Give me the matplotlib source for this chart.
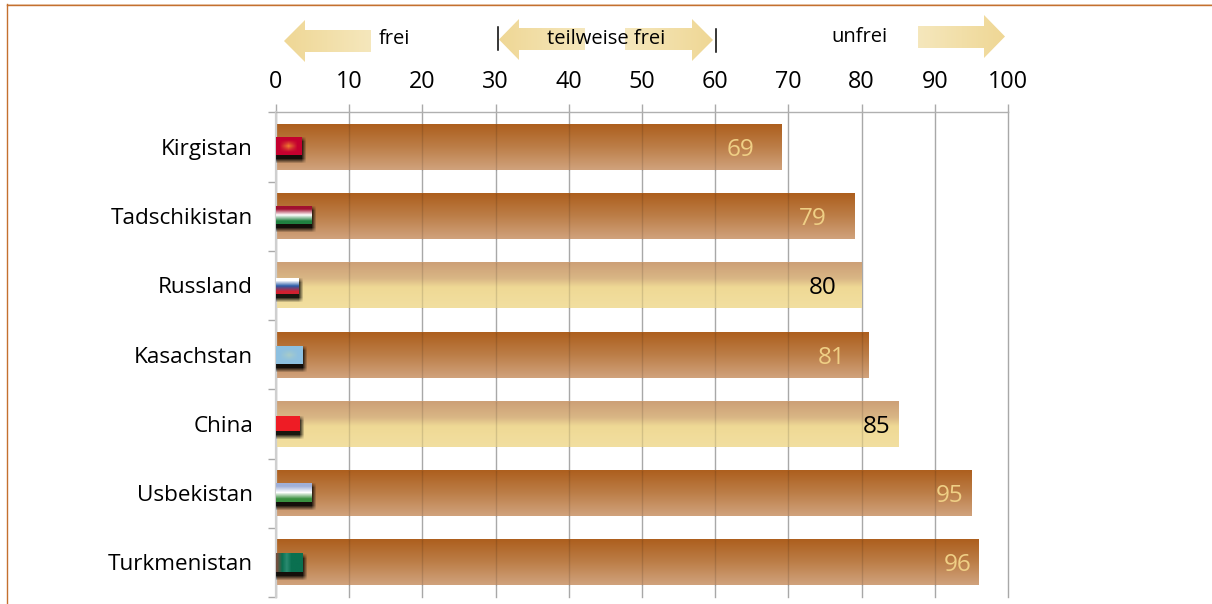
import numpy as np
import matplotlib
matplotlib.use('Agg')
import matplotlib.pyplot as plt
from matplotlib.colors import to_rgb, LinearSegmentedColormap
from matplotlib.patches import Polygon

# --- press freedom chart: countries, scores, status ---
countries = ['Kirgistan', 'Tadschikistan', 'Russland', 'Kasachstan', 'China', 'Usbekistan', 'Turkmenistan']
scores = [69, 79, 80, 81, 85, 95, 96]
score_labels = ['69', '79', '80', '81', '85', '95', '96']
light_bar = [False, False, True, False, True, False, False]
x_ticks = [0, 10, 20, 30, 40, 50, 60, 70, 80, 90, 100]

# layout / style only
W, H = 1212, 604
label_shift = [41, 42, 39, 37, 22, 22, 21]  # px left of the bar end
flag_size = [(26, 18), (36, 18), (23, 16), (27, 18), (24, 15), (36, 19), (27, 18)]  # px
flag_dy = [-1, -1, 1, 0, 0, -1, 1]  # px from bar centre
flag_pixels = [
    [['#C4002F', '#C4002F', '#C4002F'], ['#C4002F', '#F08030', '#C4002F'], ['#C4002F', '#C4002F', '#C4002F']],
    [['#A01030'], ['#FFFFFF'], ['#208040']],
    [['#FFFFFF'], ['#2A5CA8'], ['#D02030']],
    [['#8DC0E0', '#8DC0E0', '#8DC0E0'], ['#8DC0E0', '#A8CCC8', '#8DC0E0'], ['#8DC0E0', '#8DC0E0', '#8DC0E0']],
    [['#EE1C25']],
    [['#A0B0D8'], ['#FFFFFF'], ['#3A9040']],
    [['#705040', '#0A7050', '#2A8A70', '#0A7050', '#0A7050', '#0A7050']],
]

plt.rcParams['font.family'] = ['Open Sans', 'DejaVu Sans']

fig = plt.figure(figsize=(W / 100, H / 100), dpi=100)
ax = fig.add_axes([276 / W, 1 - 597 / H, (1008 - 276) / W, (597 - 112.3) / H])

brown_cmap = LinearSegmentedColormap.from_list('brown', ['#AD5F1E', '#BC7E48', '#D0A27C'])
tan_cmap = LinearSegmentedColormap.from_list('tan', [(0, '#CDA077'), (0.35, '#D9B685'), (0.55, '#EFD995'), (1, '#F2DFA0')])
grad = np.linspace(0, 1, 64).reshape(-1, 1)

ypos = np.arange(len(countries))
bars = ax.barh(ypos, scores, height=46 / 69.3, color='none', linewidth=0)
for bar, light in zip(bars, light_bar):
    x0, y0, w, h = bar.get_x(), bar.get_y(), bar.get_width(), bar.get_height()
    im = ax.imshow(grad, cmap=tan_cmap if light else brown_cmap, aspect='auto',
                   extent=(x0, x0 + w, y0 + h, y0), zorder=1, interpolation='bilinear')
    im.set_clip_path(bar)
    # grid shows faintly through the bar
    ax.vlines([t for t in x_ticks if 0 < t < x0 + w], y0, y0 + h, color='black', alpha=0.12, linewidth=1, zorder=2)

# px to data scale
sx = 100 / (1008 - 276)
sy = 7 / (597 - 112.3)

# flags with a soft shadow underneath
for i, (size, dy, pix) in enumerate(zip(flag_size, flag_dy, flag_pixels)):
    fw, fh = size
    blur = 5
    ex = np.clip(np.minimum(np.arange(fw + 2 * blur), np.arange(fw + 2 * blur)[::-1]) / blur, 0, 1)
    ey = np.clip(np.minimum(np.arange(fh + 2 * blur), np.arange(fh + 2 * blur)[::-1]) / blur, 0, 1)
    shadow = np.zeros((fh + 2 * blur, fw + 2 * blur, 4))
    shadow[..., 3] = np.outer(ey, ex) * 0.9
    top = i + (dy - fh / 2) * sy
    ax.imshow(shadow, aspect='auto', zorder=4, interpolation='bilinear',
              extent=(-blur * sx, (fw + blur) * sx, top + (fh + 4 + blur) * sy, top + (4 - blur) * sy))
    rgb = np.array([[to_rgb(c) for c in row] for row in pix])
    ax.imshow(rgb, aspect='auto', zorder=5, interpolation='bilinear' if rgb.size > 3 else 'nearest',
              extent=(-0.1, -0.1 + fw * sx, top + fh * sy, top))

for i, (val, txt, shift, light) in enumerate(zip(scores, score_labels, label_shift, light_bar)):
    ax.text(val - shift * sx, i + 3 * sy, txt, ha='center', va='center', fontsize=17.5,
            color='black' if light else '#EFCF85', zorder=6)

ax.set_xlim(0, 100)
ax.set_ylim(6.5, -0.5)
ax.set_axisbelow(True)
ax.xaxis.tick_top()
ax.set_xticks(x_ticks)
ax.set_xticklabels([str(t) for t in x_ticks], fontsize=16.8, color='black')
ax.tick_params(axis='x', length=5.8, width=1, color='#AAAAAA', pad=7.5)
ax.xaxis.grid(True, color='#A8A8A8', linewidth=1, clip_on=False)

# boundaries get the tick marks, centres get the names
ax.set_yticks(np.arange(-0.5, 7, 1))
ax.set_yticklabels([])
ax.set_yticks(ypos, labels=countries, minor=True)
ax.tick_params(axis='y', which='major', length=5.8, width=1, color='#AAAAAA')
ax.tick_params(axis='y', which='minor', length=0, pad=16.5, labelsize=16.2)

for side in ['right', 'bottom']:
    ax.spines[side].set_visible(False)
ax.spines['top'].set_color('#B0B0B0')
ax.spines['top'].set_linewidth(1)
ax.spines['left'].set_color('#CFCFCF')
ax.spines['left'].set_linewidth(1.6)

# overlay in pixel coordinates: frame, arrows, status words
ov = fig.add_axes([0, 0, 1, 1], zorder=10)
ov.patch.set_alpha(0)
ov.axis('off')

arrow_cmap = LinearSegmentedColormap.from_list('arrow', ['#EFD795', '#F5E7BC'])


def arrow(tip, base, end, y0, y1, hy0, hy1):
    ym = (hy0 + hy1) / 2
    poly = Polygon([(tip, ym), (base, hy0), (base, y0), (end, y0), (end, y1), (base, y1), (base, hy1)],
                   closed=True, facecolor='none', edgecolor='none')
    ov.add_patch(poly)
    g = np.linspace(0, 1, 64).reshape(1, -1)
    im = ov.imshow(g, cmap=arrow_cmap, aspect='auto', zorder=1, interpolation='bilinear',
                   extent=(tip, end, hy1, hy0))
    im.set_clip_path(poly)


arrow(284, 305, 371, 30, 52, 20, 62)
arrow(499, 519, 585, 28, 50, 19, 60)
arrow(713, 692, 625, 28, 50, 19, 61)
arrow(1005, 984, 918, 26, 48, 15, 58)

ov.plot([497.5, 497.5], [27, 50], color='black', lw=1.1, zorder=2)
ov.plot([715.5, 715.5], [29, 52], color='black', lw=1.1, zorder=2)
ov.text(394, 39.5, 'frei', ha='center', va='center', fontsize=14.5, zorder=3)
ov.text(606, 38.5, 'teilweise frei', ha='center', va='center', fontsize=14.5, zorder=3)
ov.text(859, 36.5, 'unfrei', ha='center', va='center', fontsize=14.5, zorder=3)

ov.plot([7, W], [4.5, 4.5], color='#C4702F', lw=1, zorder=2)
ov.plot([7, W], [3.5, 3.5], color='#EBCFB8', lw=0.7, zorder=1)
ov.plot([7, 7], [4, H], color='#C4702F', lw=1, zorder=2)
ov.set_xlim(0, W)
ov.set_ylim(H, 0)

fig.savefig('out.png', dpi=100, facecolor='white')
